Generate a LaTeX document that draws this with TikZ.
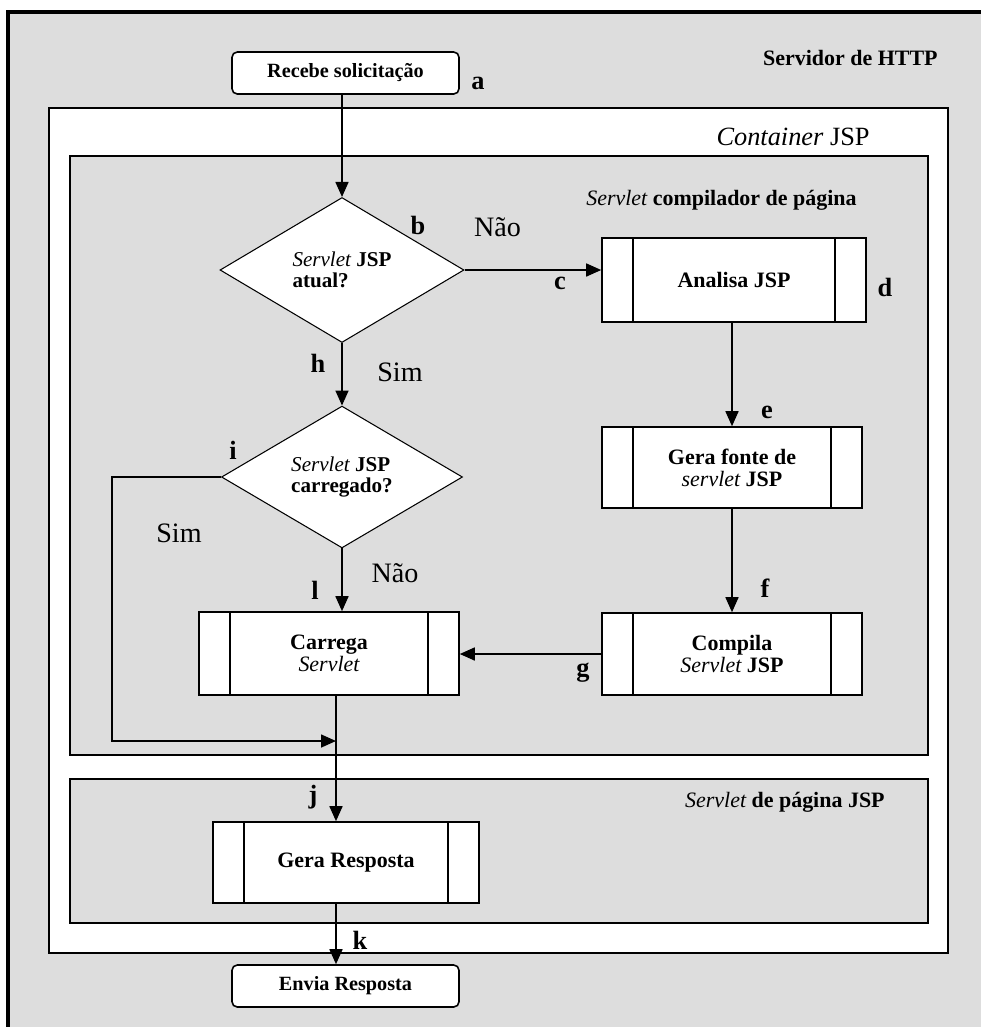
\documentclass[tikz,border=0pt]{standalone}
\usepackage{fontspec}
\setmainfont{Liberation Serif}
\usepackage{xcolor}
\usepackage{tikz}
\usetikzlibrary{
  arrows.meta,
  positioning,
  shapes.geometric,
  calc
}
\definecolor{framegray}{RGB}{221,221,221}
\newcommand{\ital}[1]{{\mdseries\itshape #1}}
\newcommand{\fsz}[1]{\fontsize{#1}{#1pt}\selectfont}

\begin{document}
\begin{tikzpicture}[
  term/.style ={draw,rounded corners=3pt,fill=white,line width=0.9pt,
                minimum width=4.54cm,minimum height=0.84cm,
                font=\bfseries\fsz{11.5},align=center},
  proc/.style ={draw,fill=white,line width=0.9pt,inner sep=0pt,
                font=\bfseries\fsz{12.5},align=center,
                path picture={
                  \draw[line width=0.9pt]
                    ([xshift=0.62cm]path picture bounding box.north west) --
                    ([xshift=0.62cm]path picture bounding box.south west);
                  \draw[line width=0.9pt]
                    ([xshift=-0.62cm]path picture bounding box.north east) --
                    ([xshift=-0.62cm]path picture bounding box.south east);}},
  ask/.style  ={draw,diamond,fill=white,line width=0.6pt,inner sep=0pt,
                font=\bfseries\fsz{12},align=left},
  area/.style ={draw,line width=0.9pt},
  lbl/.style  ={font=\bfseries\fsz{15},inner sep=0pt},
  ans/.style  ={font=\fsz{16},inner sep=0pt},
  ttl/.style  ={font=\bfseries\fsz{12.5},inner sep=0pt,anchor=east},
  arr/.style  ={-{Triangle[length=0.3cm,width=0.26cm]},line width=0.9pt},
]
\useasboundingbox (0,0) rectangle (19.62,-20.54);
\fill[white] (0,0) rectangle (19.62,-20.54);

% nested areas
\fill[framegray] (0.16,-0.24) rectangle (19.62,-20.54);
\draw[line width=2pt] (19.62,-0.24) -- (0.16,-0.24) -- (0.16,-20.54);
\draw[area,fill=white]      (0.98,-2.16) rectangle (18.96,-19.06);
\draw[area,fill=framegray]  (1.40,-3.12) rectangle (18.56,-15.10);
\draw[area,fill=framegray]  (1.40,-15.58) rectangle (18.56,-18.46);

\node[ttl] (httpttl) at (18.76,-1.16) {Servidor de HTTP};
\node[ttl,font=\fsz{15}] (contttl) at (17.40,-2.74) {\textit{Container} JSP};
\node[ttl] (compttl) at (17.14,-4.00) {\ital{Servlet} compilador de página};
\node[ttl] (pagttl)  at (17.70,-16.04) {\ital{Servlet} de página JSP};

% flow nodes
\node[term] (recebe) at (6.91,-1.46) {Recebe solicitação};
\node[ask,minimum width=4.88cm,minimum height=2.9cm] (atual) at (6.84,-5.40)
  {\ital{Servlet} JSP\\atual?};
\node[ask,minimum width=4.82cm,minimum height=2.82cm] (carreg) at (6.84,-9.54)
  {\ital{Servlet} JSP\\carregado?};
\node[proc,minimum width=5.28cm,minimum height=1.68cm] (analisa) at (14.68,-5.60)
  {Analisa JSP};
\node[proc,minimum width=5.2cm,minimum height=1.62cm] (fonte) at (14.64,-9.35)
  {Gera fonte de\\\ital{servlet} JSP};
\node[proc,minimum width=5.2cm,minimum height=1.64cm] (compila) at (14.64,-13.08)
  {Compila\\\ital{Servlet} JSP};
\node[proc,minimum width=5.2cm,minimum height=1.66cm] (carrega) at (6.58,-13.07)
  {Carrega\\\ital{Servlet}};
\node[proc,minimum width=5.32cm,minimum height=1.62cm] (geraresp) at (6.92,-17.25)
  {Gera Resposta};
\node[term] (envia) at (6.91,-19.72) {Envia Resposta};
\coordinate (junta) at (6.72,-14.82);

% connectors
\draw[arr] (recebe.south -| atual.north) -- (atual.north);
\draw[arr] (atual.east) -- (atual.east -| analisa.west);
\draw[arr] (analisa.south -| fonte.north) -- (fonte.north);
\draw[arr] (fonte) -- (compila);
\draw[arr] (compila.west) -- (compila.west -| carrega.east);
\draw[arr] (atual) -- (carreg);
\draw[arr] (carreg.south) -- (carreg.south |- carrega.north);
\draw[arr] (carreg.west) -- ++(-2.18,0) |- (junta);
\draw[arr] (carrega.south -| junta) -- (junta |- geraresp.north);
\draw[arr] (geraresp.south -| junta) -- (junta |- envia.north);

% letters and answers
\node[lbl] (la) at (9.56,-1.66) {a};
\node[lbl] (lb) at (8.36,-4.50) {b};
\node[ans] (nao1) at (9.95,-4.54) {Não};
\node[lbl] (lc) at (11.20,-5.66) {c};
\node[lbl] (ld) at (17.70,-5.74) {d};
\node[lbl] (le) at (15.34,-8.24) {e};
\node[lbl] (lf) at (15.30,-11.76) {f};
\node[lbl] (lg) at (11.66,-13.46) {g};
\node[lbl] (lh) at (6.36,-7.26) {h};
\node[ans] (sim1) at (8.00,-7.44) {Sim};
\node[lbl] (li) at (4.66,-9.00) {i};
\node[ans] (sim2) at (3.58,-10.66) {Sim};
\node[ans] (nao2) at (7.90,-11.46) {Não};
\node[lbl] (ll) at (6.30,-11.80) {l};
\node[lbl] (lj) at (6.26,-15.94) {j};
\node[lbl] (lk) at (7.20,-18.80) {k};
\end{tikzpicture}
\end{document}
